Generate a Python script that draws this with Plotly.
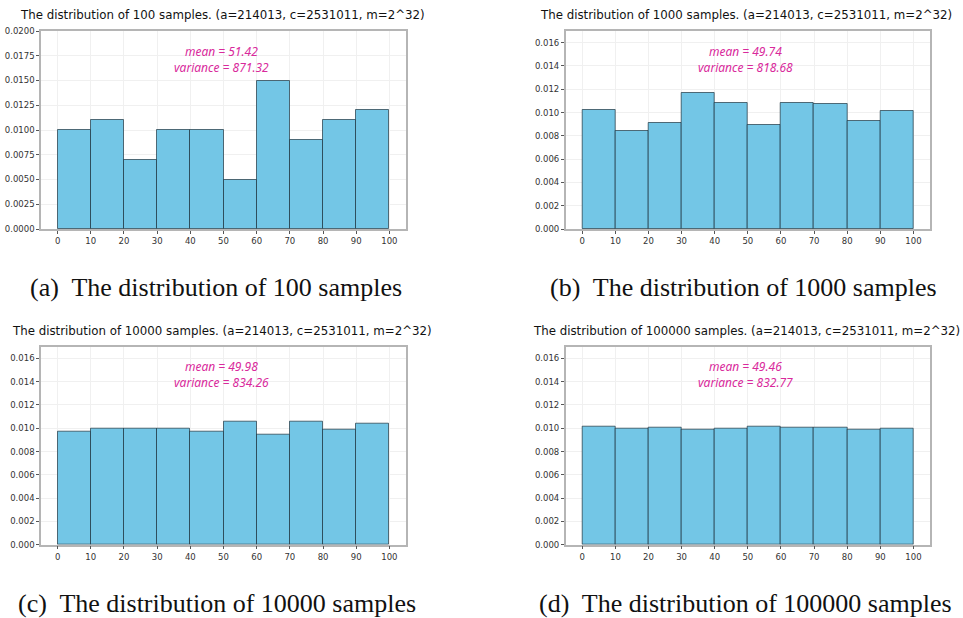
import plotly.graph_objects as go

bin_edges = [0, 10, 20, 30, 40, 50, 60, 70, 80, 90, 100]
x_ticks = [0, 10, 20, 30, 40, 50, 60, 70, 80, 90, 100]

sample_sizes = [100, 1000, 10000, 100000]
density_100 = [0.010, 0.011, 0.007, 0.010, 0.010, 0.005, 0.015, 0.009, 0.011, 0.012]
density_1000 = [0.0102, 0.0084, 0.0091, 0.0117, 0.0108, 0.0089, 0.0108, 0.0107, 0.0093, 0.0101]
density_10000 = [0.00966, 0.00994, 0.00993, 0.01000, 0.00968, 0.01060, 0.00941, 0.01054, 0.00991, 0.01043]
density_100000 = [0.01013, 0.00993, 0.01002, 0.00985, 0.00993, 0.01013, 0.01007, 0.01005, 0.00985, 0.00996]
means = [51.42, 49.74, 49.98, 49.46]
variances = [871.32, 818.68, 834.26, 832.77]
captions = ["(a)  The distribution of 100 samples",
            "(b)  The distribution of 1000 samples",
            "(c)  The distribution of 10000 samples",
            "(d)  The distribution of 100000 samples"]
y_max = [0.02, 0.017, 0.017, 0.017]
y_dtick = [0.0025, 0.002, 0.002, 0.002]
y_fmt = [".4f", ".3f", ".3f", ".3f"]

densities = [density_100, density_1000, density_10000, density_100000]

W, H = 963, 618
# plot-area boxes in pixels: left, right, top, bottom
boxes = [(41, 406, 31, 229), (565.7, 930, 31, 229),
         (41, 406, 346.7, 544.7), (565.7, 930, 346.7, 544.7)]
caption_pos = [(216, 287), (743, 287), (217, 603), (745, 603)]

fig = go.Figure()
centers = [(bin_edges[i] + bin_edges[i + 1]) / 2 for i in range(len(bin_edges) - 1)]
widths = [bin_edges[i + 1] - bin_edges[i] for i in range(len(bin_edges) - 1)]

for k in range(4):
    xa = "x" if k == 0 else f"x{k+1}"
    ya = "y" if k == 0 else f"y{k+1}"
    fig.add_trace(go.Bar(
        x=centers, y=densities[k], width=widths, xaxis=xa, yaxis=ya,
        marker=dict(color="#73c6e6", line=dict(color="rgba(20,40,50,0.65)", width=1)),
        showlegend=False, hoverinfo="skip"))
    l, r, t, b = boxes[k]
    axis_common = dict(showline=True, mirror=True, linecolor="#b5b5b5", linewidth=1.5,
                       showgrid=True, gridcolor="#f0f0f0", gridwidth=1, zeroline=False,
                       ticks="outside", ticklen=3, tickcolor="#555555", automargin=False,
                       tickfont=dict(family="DejaVu Sans", size=8.5, color="#333333"))
    fig.layout[f"xaxis{'' if k == 0 else k+1}"] = dict(
        domain=[l / W, r / W], anchor=ya, range=[-5, 105],
        tickvals=x_ticks, **axis_common)
    fig.layout[f"yaxis{'' if k == 0 else k+1}"] = dict(
        domain=[1 - b / H, 1 - t / H], anchor=xa, range=[0, y_max[k]],
        dtick=y_dtick[k], tick0=0, tickformat=y_fmt[k], **axis_common)
    cx = (l + r) / 2
    fig.add_annotation(
        x=(cx - 1.5) / W, y=1 - (t - 16) / H, xref="paper", yref="paper",
        text=f"The distribution of {sample_sizes[k]} samples. (a=214013, c=2531011, m=2^32)",
        showarrow=False, font=dict(family="DejaVu Sans", size=11.8, color="#111111"),
        xanchor="center", yanchor="middle")
    fig.add_annotation(
        x=(cx - 2) / W, y=1 - (t + 28) / H, xref="paper", yref="paper",
        text=f"<i>mean = {means[k]:.2f}<br>variance = {variances[k]:.2f}</i>",
        showarrow=False, align="center",
        font=dict(family="Noto Sans", size=12, color="#d92a9c"),
        xanchor="center", yanchor="middle")
    px, py = caption_pos[k]
    fig.add_annotation(
        x=px / W, y=1 - py / H, xref="paper", yref="paper", text=captions[k],
        showarrow=False, font=dict(family="Liberation Serif", size=26, color="#111111"),
        xanchor="center", yanchor="middle")

fig.update_layout(width=W, height=H, margin=dict(l=0, r=0, t=0, b=0, autoexpand=False),
                  paper_bgcolor="white", plot_bgcolor="white", bargap=0)
fig.write_html("out.html", config={"displayModeBar": False},
               post_script="document.body.style.margin='0';document.body.style.overflow='hidden';")
